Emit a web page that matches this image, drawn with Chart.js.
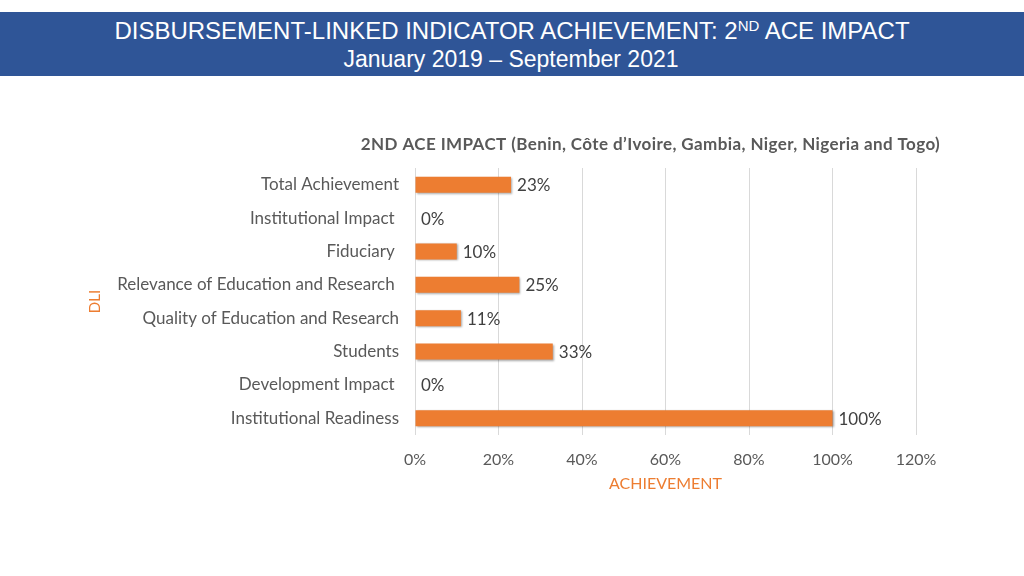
<!DOCTYPE html>
<html>
<head>
<meta charset="utf-8">
<script src="https://cdn.jsdelivr.net/npm/chart.js@4"></script>
<style>
  html, body { margin: 0; padding: 0; background: #fff; }
  #wrap { position: relative; width: 1024px; height: 576px; overflow: hidden; }
  #header {
    position: absolute; left: 0; top: 12px; width: 1024px; height: 64px;
    background: #2F5597; color: #fff; text-align: center;
    font-family: "Liberation Sans", Arial, sans-serif; z-index: 2;
  }
  #header .l1 { position: absolute; top: 5px; width: 100%; font-size: 24px; line-height: 28px; }
  #header .l2 { position: absolute; top: 34px; width: 100%; font-size: 23px; line-height: 27px; left: -1px; }
  #header sup { font-size: 15px; vertical-align: 8px; line-height: 0; }
  canvas { position: absolute; left: 0; top: 0; }
</style>
</head>
<body>
<div id="wrap">
  <div id="header">
    <div class="l1">DISBURSEMENT-LINKED INDICATOR ACHIEVEMENT: 2<sup>ND</sup> ACE IMPACT</div>
    <div class="l2">January 2019 – September 2021</div>
  </div>
  <canvas id="myChart" width="1024" height="576"></canvas>
</div>
<script>
// values (top to bottom)
const categories = [
  "Total Achievement",
  "Institutional Impact ",
  "Fiduciary ",
  "Relevance of Education and Research ",
  "Quality of Education and Research",
  "Students",
  "Development Impact ",
  "Institutional Readiness"
];
const achievement = [0.23, 0, 0.10, 0.25, 0.11, 0.33, 0, 1.00];
const chartTitleBold = "2ND ACE IMPACT";
const chartTitleRest = " (Benin, Côte d’Ivoire, Gambia, Niger, Nigeria and Togo)";

const ORANGE = "#ED7D31";
const GREY = "#595959";
const FONT = "Lato, 'Noto Sans', sans-serif";

const pct = (v) => Math.round(v * 100) + "%";

// value labels at the end of each bar + bar shadow + chart heading
const extras = {
  id: "extras",
  beforeDatasetsDraw(chart) {
    const ctx = chart.ctx;
    ctx.save();
    ctx.shadowColor = "rgba(0,0,0,0.35)";
    ctx.shadowBlur = 2;
    ctx.shadowOffsetX = 1;
    ctx.shadowOffsetY = 1;
  },
  afterDatasetsDraw(chart) {
    const ctx = chart.ctx;
    ctx.restore();
    const meta = chart.getDatasetMeta(0);
    ctx.save();
    ctx.font = "17px " + FONT;
    ctx.fillStyle = "#404040";
    ctx.textBaseline = "middle";
    meta.data.forEach((bar, i) => {
      ctx.fillText(pct(achievement[i]), bar.x + 6, bar.y + 1);
    });
    ctx.restore();
  },
  afterDraw(chart) {
    const ctx = chart.ctx;
    const area = chart.chartArea;
    ctx.save();
    ctx.letterSpacing = "0.4px";
    ctx.font = "bold 17px " + FONT;
    ctx.fillStyle = GREY;
    ctx.textBaseline = "middle";
    const w1 = ctx.measureText(chartTitleBold).width;
    const w2 = ctx.measureText(chartTitleRest).width;
    const cx = (area.left + area.right) / 2 - 15;
    const x = cx - (w1 + w2) / 2;
    const y = area.top - 23;
    ctx.fillText(chartTitleBold, x, y);
    ctx.fillText(chartTitleRest, x + w1, y);
    ctx.restore();
  }
};

const ctx = document.getElementById("myChart").getContext("2d");
const myChart = new Chart(ctx, {
  type: "bar",
  data: {
    labels: categories,
    datasets: [
      {
        label: "Achievement",
        data: achievement,
        backgroundColor: ORANGE,
        borderWidth: 0,
        categoryPercentage: 1,
        barPercentage: 0.48,
      },
    ],
  },
  options: {
    indexAxis: "y",
    responsive: false,
    animation: false,
    layout: { padding: { left: 80, right: 108, top: 168, bottom: 76 } },
    plugins: {
      legend: { display: false },
      tooltip: { enabled: false },
    },
    scales: {
      x: {
        min: 0,
        max: 1.2,
        ticks: {
          stepSize: 0.2,
          padding: 15,
          color: GREY,
          font: { family: FONT, size: 16 },
          callback: (value) => pct(value),
        },
        grid: { color: "#D9D9D9", drawTicks: false },
        border: { display: false },
        title: {
          display: true,
          text: "ACHIEVEMENT",
          color: ORANGE,
          font: { family: FONT, size: 16 },
          padding: { top: 0, bottom: 7 },
        },
        afterFit: (scale) => { scale.height = 65; },
      },
      y: {
        ticks: {
          padding: 16,
          color: GREY,
          font: { family: FONT, size: 17 },
        },
        grid: { display: false, drawTicks: false },
        border: { display: false },
        title: {
          display: true,
          text: "DLI",
          color: ORANGE,
          font: { family: FONT, size: 15 },
          padding: { top: 6, bottom: 0 },
        },
        afterFit: (scale) => { scale.width = 335; },
      },
    },
  },
  plugins: [extras],
});
</script>
</body>
</html>
